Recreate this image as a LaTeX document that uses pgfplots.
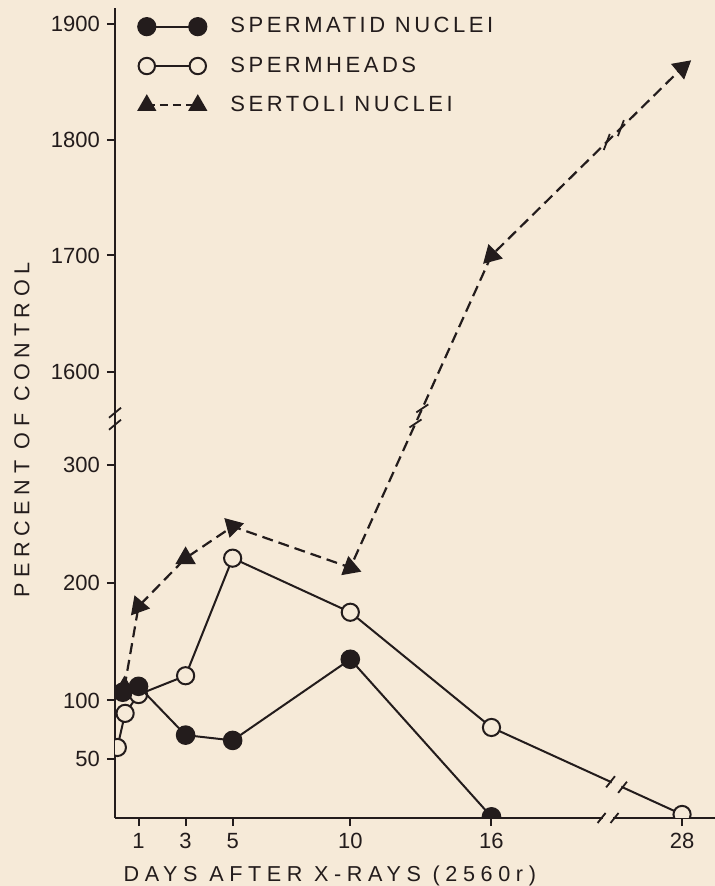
\documentclass[border=0pt]{standalone}
\usepackage{pgfplots}
\pgfplotsset{compat=1.18}
\usepackage{pgfplotstable}
\usepackage{fontspec}
\setmainfont{Liberation Sans}
\newfontfamily\labfont[LetterSpace=26]{Liberation Sans}
\newfontfamily\legfont[LetterSpace=16]{Liberation Sans}
\definecolor{bg}{RGB}{246,234,216}
\definecolor{ink}{RGB}{35,28,28}

% Spermatid nuclei (days, percent of control)
\pgfplotstableread{
x y
0.33 107
1 112
3 70.5
5 66
10 135
16 1
}\spermatid
% Spermheads (x = 24.1 is day 28 after the axis break)
\pgfplotstableread{
x y
0.1 60
0.43 89
1 105
3 121
5 221
10 175
16 77
24.1 3
}\spermheads
% Sertoli nuclei (y above the break: 1700 -> 478.5, 1862 -> 638); rot = marker rotation
\pgfplotstableread{
x y rot
0.4 111 0
1 180 20
3 221 0
5 248 45
10 213 -110
16 478.5 15
24.1 638 -50
}\sertoli

\begin{document}
\begin{tikzpicture}
\useasboundingbox (0,0) rectangle (357.5pt,443pt);
\fill[bg] (0,0) rectangle (357.5pt,443pt);
\begin{axis}[
  at={(57.5pt,34pt)}, anchor=south west,
  width=300pt, height=405pt, scale only axis,
  xmin=0, xmax=25.5, ymin=0, ymax=689,
  axis lines*=left,
  axis line style={ink, line width=1pt},
  xtick={1,3,5,10,16,24.1}, xticklabels={1,3,5,10,16,28},
  ytick={50,100,200,300,379.6,478.5,577,675.5},
  yticklabels={50,100,200,300,1600,1700,1800,1900},
  tick align=outside, major tick length=4pt,
  tick style={ink, line width=1pt},
  ticklabel style={font=\fontsize{11}{12}\selectfont, text=ink},
  /pgf/number format/assume math mode=true,
  xlabel={\labfont DAYS AFTER X-RAYS (2560r)},
  xlabel style={at={(axis description cs:0.358,-0.0716)}, anchor=center, font=\fontsize{10.8}{12}\selectfont, text=ink},
  ylabel={\labfont PERCENT OF CONTROL},
  ylabel style={at={(axis description cs:-0.155,0.479)}, anchor=center, font=\fontsize{10.8}{12}\selectfont, text=ink},
  clip marker paths=true,
  legend cell align=left,
  legend image code/.code={\draw[mark repeat=1,mark phase=1,#1] plot coordinates {(0pt,0pt) (25.5pt,0pt)};},
  legend style={at={(axis description cs:0.038,0.9937)}, anchor=north west, draw=none, fill=none,
    inner sep=0pt, row sep=6.5pt, column sep=10pt, font=\fontsize{11}{13}\selectfont, text=ink},
]
\addlegendimage{ink, line width=1pt, mark=*, mark size=4.3pt, mark options={solid, fill=ink}}
\addlegendentry{\legfont SPERMATID NUCLEI}
\addlegendimage{ink, line width=1pt, mark=*, mark size=4.1pt, mark options={solid, fill=bg}}
\addlegendentry{\legfont SPERMHEADS}
\addlegendimage{ink, line width=1pt, dash pattern=on 4pt off 2.5pt, mark=triangle*, mark size=4.6pt, mark options={solid, fill=ink}}
\addlegendentry{\legfont SERTOLI NUCLEI}

\addplot[forget plot, ink, line width=1pt, mark=*, mark size=4.3pt, mark options={fill=bg}]
  table[x=x,y=y]{\spermheads};
\addplot[forget plot, ink, line width=1.1pt, dash pattern=on 5.5pt off 3pt,
  mark=triangle*, mark size=4.8pt, mark options={solid, fill=ink, draw=ink},
  scatter, scatter/use mapped color={draw=ink, fill=ink},
  visualization depends on={\thisrow{rot} \as \rot},
  scatter/@pre marker code/.append style={/tikz/rotate=\rot}]
  table[x=x,y=y]{\sertoli};
\addplot[forget plot, ink, line width=1pt, mark=*, mark size=4.4pt, mark options={fill=ink}]
  table[x=x,y=y]{\spermatid};

\coordinate (xb1) at (axis cs:20.68,0);
\coordinate (xb2) at (axis cs:21.23,0);
\coordinate (yb1) at (axis cs:0,334.5);
\coordinate (yb2) at (axis cs:0,344.7);
\coordinate (hb1) at (axis cs:21.06,30.8);
\coordinate (hb2) at (axis cs:21.57,26.1);
\coordinate (sa1) at (axis cs:12.77,335.6);
\coordinate (sa2) at (axis cs:13.06,348.4);
\coordinate (sb1) at (axis cs:20.9,575);
\coordinate (sb2) at (axis cs:21.5,586.8);
\end{axis}
% axis and line breaks
\draw[bg, line width=2.2pt] ([xshift=0.6pt]xb1) -- ([xshift=-0.6pt]xb2);
\draw[bg, line width=2.2pt] ([xshift=0.6pt,yshift=-0.5pt]hb1) -- ([xshift=-0.6pt,yshift=0.5pt]hb2);
\begin{scope}[ink, line width=0.9pt]
\foreach \c in {xb1,xb2} \draw ([xshift=-2pt,yshift=-2.5pt]\c) -- ([xshift=2pt,yshift=2.5pt]\c);
\foreach \c in {yb1,yb2} \draw ([xshift=-3pt,yshift=-2.5pt]\c) -- ([xshift=3pt,yshift=2.5pt]\c);
\foreach \c in {hb1,hb2} \draw ([xshift=-2.2pt,yshift=-2.8pt]\c) -- ([xshift=2.2pt,yshift=2.8pt]\c);
\foreach \c in {sa1,sa2} \draw ([xshift=-3pt,yshift=-2pt]\c) -- ([xshift=3pt,yshift=2pt]\c);
\foreach \c in {sb1,sb2} \draw ([xshift=-1.5pt,yshift=-4pt]\c) -- ([xshift=1.5pt,yshift=4pt]\c);
\end{scope}
\end{tikzpicture}
\end{document}
